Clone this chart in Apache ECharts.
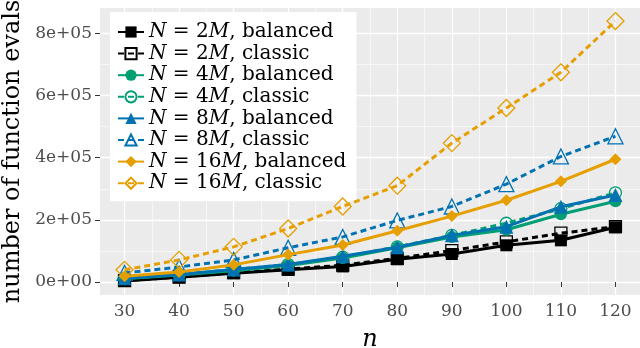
<!DOCTYPE html>
<html><head><meta charset="utf-8">
<script src="https://cdn.jsdelivr.net/npm/echarts@6/dist/echarts.min.js"></script>
<style>html,body{margin:0;padding:0;background:#fff}#c{width:640px;height:348px}</style>
</head><body><div id="c"></div>
<script>
const nValues = [30, 40, 50, 60, 70, 80, 90, 100, 110, 120];
const xTicks = [30, 40, 50, 60, 70, 80, 90, 100, 110, 120];
const yTicks = [0, 200000, 400000, 600000, 800000];
const n2Balanced  = [3000, 15000, 28000, 39000, 50000, 73000, 90000, 118000, 134000, 176000];
const n2Classic   = [4000, 16000, 30000, 41000, 54000, 76000, 101000, 129000, 157000, 178000];
const n4Balanced  = [10000, 22000, 36000, 53000, 77000, 110000, 145000, 168000, 218000, 260000];
const n4Classic   = [11000, 24000, 40000, 56000, 80000, 113000, 150000, 189000, 236000, 287000];
const n8Balanced  = [12000, 24000, 40000, 56000, 83000, 112000, 150000, 178000, 242000, 280000];
const n8Classic   = [29000, 48000, 71000, 110000, 145000, 198000, 243000, 315000, 404000, 469000];
const n16Balanced = [18000, 32000, 55000, 88000, 119000, 165000, 212000, 263000, 324000, 395000];
const n16Classic  = [39000, 71000, 113000, 172000, 243000, 310000, 447000, 560000, 675000, 840000];
const seriesNames = ['N = 2M, balanced','N = 2M, classic','N = 4M, balanced','N = 4M, classic',
  'N = 8M, balanced','N = 8M, classic','N = 16M, balanced','N = 16M, classic'];

const defs = [
  {d:n2Balanced, c:'#000000', s:'rect', size:12, empty:false},
  {d:n2Classic, c:'#000000', s:'rect', size:12, empty:true},
  {d:n4Balanced, c:'#009E73', s:'circle', size:12, empty:false},
  {d:n4Classic, c:'#009E73', s:'circle', size:12, empty:true},
  {d:n8Balanced, c:'#0072B2', s:'triangle', size:14, empty:false},
  {d:n8Classic, c:'#0072B2', s:'triangle', size:15, empty:true},
  {d:n16Balanced, c:'#E69F00', s:'diamond', size:12, empty:false},
  {d:n16Classic, c:'#E69F00', s:'diamond', size:17, empty:true}
];
const series = defs.map((o,i)=>({
  name: seriesNames[i], type:'line', xAxisIndex:0, yAxisIndex:0,
  data: nValues.map((n,k)=>[n,o.d[k]]),
  symbol:o.s, symbolSize:o.size,
  lineStyle:{color:o.c, width:3, type:o.empty?[6,4]:'solid'},
  itemStyle: o.empty ? {color:'rgba(0,0,0,0)', borderColor:o.c, borderWidth:1.3} : {color:o.c},
  z: 2 + i
}));

function sci(v){
  if(v===0) return '0e+00';
  const e=Math.floor(Math.log10(v)); const m=Math.round(v/Math.pow(10,e));
  return m+'e+'+String(e).padStart(2,'0');
}
const xmin=25.5, xmax=124.5, ymin=-42000, ymax=882000;
const xMinor=[35,45,55,65,75,85,95,105,115];
const yMinor=[100000,300000,500000,700000];
const lab={color:'#4D4D4D', fontFamily:'DejaVu Serif', fontSize:17};
const option={
  animation:false,
  grid:{left:100,right:0,top:8,bottom:53,show:true,backgroundColor:'#EBEBEB',borderWidth:0,
        containLabel:false,outerBoundsMode:'none'},
  xAxis:[
    {type:'value',min:xmin,max:xmax,
     axisLine:{show:false},
     axisTick:{show:true,length:5,lineStyle:{color:'#333',width:1},customValues:xTicks},
     axisLabel:{...lab,margin:8,customValues:xTicks},
     splitLine:{show:true,lineStyle:{color:'#fff',width:1.3}},
     name:'n',nameLocation:'middle',nameGap:33,
     nameTextStyle:{fontFamily:'DejaVu Serif',fontStyle:'italic',fontSize:24,color:'#000'}},
    {type:'value',min:xmin,max:xmax,show:true,position:'bottom',
     axisLine:{show:false},axisTick:{show:false,customValues:xMinor},
     axisLabel:{show:false,customValues:xMinor},
     splitLine:{show:true,lineStyle:{color:'#fff',width:0.6}}}
  ],
  yAxis:[
    {type:'value',min:ymin,max:ymax,
     axisLine:{show:false},
     axisTick:{show:true,length:5,lineStyle:{color:'#333',width:1},customValues:yTicks},
     axisLabel:{...lab,margin:8,customValues:yTicks,formatter:sci},
     splitLine:{show:true,lineStyle:{color:'#fff',width:1.3}},
     name:'number of function evals',nameLocation:'middle',nameGap:75,
     nameTextStyle:{fontFamily:'DejaVu Serif',fontSize:24,color:'#000'}},
    {type:'value',min:ymin,max:ymax,show:true,position:'left',
     axisLine:{show:false},axisTick:{show:false,customValues:yMinor},
     axisLabel:{show:false,customValues:yMinor},
     splitLine:{show:true,lineStyle:{color:'#fff',width:0.6}}}
  ],
  legend:{
    left:110, top:12, orient:'vertical', backgroundColor:'#fff', padding:[10,10,8,7],
    itemWidth:26, itemHeight:14, itemGap:1.6,
    data:seriesNames,
    formatter:name=>name.replace(/([NM])/g,'{i|$1}'),
    textStyle:{fontFamily:'DejaVu Serif',fontSize:20,color:'#000',lineHeight:20,
      rich:{i:{fontFamily:'DejaVu Serif',fontStyle:'italic',fontSize:20,color:'#000',lineHeight:20}}}
  },
  series
};
echarts.init(document.getElementById('c')).setOption(option);
</script></body></html>
